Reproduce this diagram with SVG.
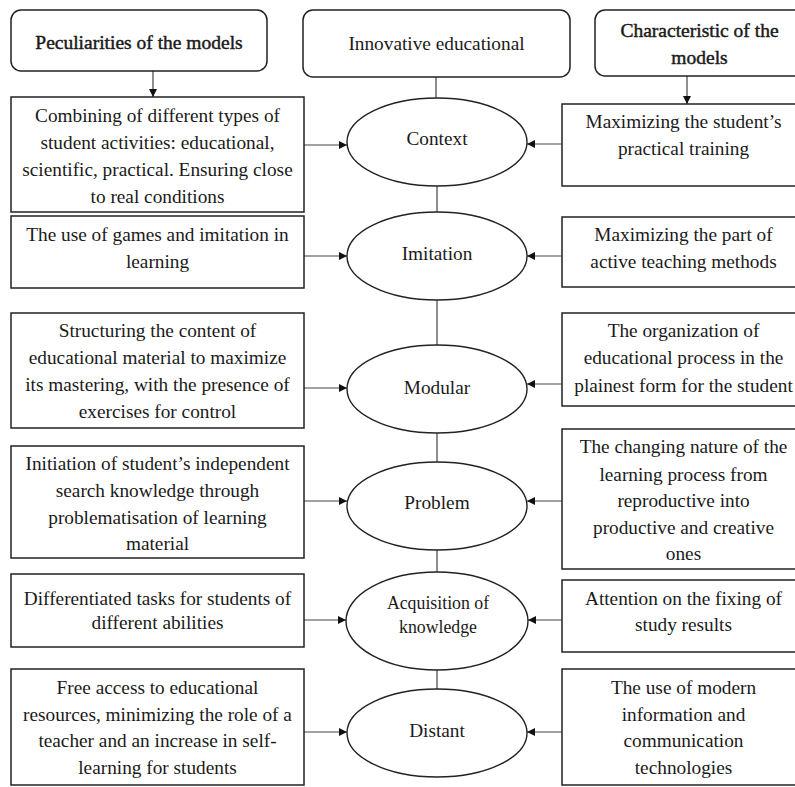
<svg xmlns="http://www.w3.org/2000/svg" width="795" height="787" viewBox="0 0 795 787">
  <style>
    text { font-family: "Liberation Serif", "Times New Roman", serif; font-size: 19.3px; fill: #1a1a1a; text-anchor: middle; }
    .head { font-size: 19.5px; stroke: #1a1a1a; stroke-width: 0.45; }
    .small { font-size: 17.8px; }
    .box { fill: #fff; stroke: #222; stroke-width: 1.5; }
    .hdr { fill: #fff; stroke: #222; stroke-width: 1.5; }
    .ell { fill: #fff; stroke: #222; stroke-width: 1.4; }
    .con { fill: none; stroke: #444; stroke-width: 1.2; }
  </style>
  <defs>
    <marker id="arr" viewBox="0 0 10 10" refX="10" refY="5" markerWidth="8" markerHeight="8" markerUnits="userSpaceOnUse" orient="auto">
      <path d="M0,0 L10,5 L0,10 z" fill="#111"/>
    </marker>
  </defs>
  <rect width="795" height="787" fill="#fff"/>

  <!-- connectors -->
  <g id="connectors">
    <!-- header arrows -->
    <line class="con" x1="153" y1="71" x2="153" y2="97" marker-end="url(#arr)"/>
    <line class="con" x1="687" y1="76" x2="687" y2="104" marker-end="url(#arr)"/>
    <!-- spine between model ellipses -->
    <line class="con" x1="436" y1="77" x2="436" y2="98"/>
    <line class="con" x1="437" y1="186" x2="437" y2="212"/>
    <line class="con" x1="437" y1="300" x2="437" y2="345"/>
    <line class="con" x1="437" y1="433" x2="437" y2="462"/>
    <line class="con" x1="437" y1="550" x2="437" y2="572"/>
    <line class="con" x1="437" y1="670" x2="437" y2="689"/>
    <!-- left boxes to ellipses -->
    <line class="con" x1="304" y1="145" x2="347" y2="145" marker-end="url(#arr)"/>
    <line class="con" x1="304" y1="256" x2="347" y2="256" marker-end="url(#arr)"/>
    <line class="con" x1="304" y1="388" x2="347" y2="388" marker-end="url(#arr)"/>
    <line class="con" x1="304" y1="501" x2="347" y2="501" marker-end="url(#arr)"/>
    <line class="con" x1="304" y1="620" x2="346" y2="620" marker-end="url(#arr)"/>
    <line class="con" x1="304" y1="732" x2="347" y2="732" marker-end="url(#arr)"/>
    <!-- right boxes to ellipses -->
    <line class="con" x1="562" y1="144" x2="527" y2="144" marker-end="url(#arr)"/>
    <line class="con" x1="562" y1="256" x2="527" y2="256" marker-end="url(#arr)"/>
    <line class="con" x1="562" y1="384" x2="527" y2="384" marker-end="url(#arr)"/>
    <line class="con" x1="562" y1="501" x2="527" y2="501" marker-end="url(#arr)"/>
    <line class="con" x1="562" y1="620" x2="528" y2="620" marker-end="url(#arr)"/>
    <line class="con" x1="562" y1="732" x2="527" y2="732" marker-end="url(#arr)"/>
  </g>

  <!-- headers -->
  <g id="hdr-peculiarities">
    <rect class="hdr" x="11" y="10" width="256" height="61" rx="10"/>
    <text class="head" x="139" y="49">Peculiarities of the models</text>
  </g>
  <g id="hdr-innovative">
    <rect class="hdr" x="303" y="10" width="267" height="67" rx="10"/>
    <text x="436.5" y="50">Innovative educational</text>
  </g>
  <g id="hdr-characteristic">
    <rect class="hdr" x="595" y="10" width="230" height="66" rx="10"/>
    <text class="head" x="699.5" y="37">Characteristic of the</text>
    <text class="head" x="699.5" y="64">models</text>
  </g>

  <!-- model ellipses -->
  <g id="m-context">
    <ellipse class="ell" cx="437" cy="142" rx="90" ry="44"/>
    <text x="437" y="145">Context</text>
  </g>
  <g id="m-imitation">
    <ellipse class="ell" cx="437" cy="256" rx="90" ry="44"/>
    <text x="437" y="260">Imitation</text>
  </g>
  <g id="m-modular">
    <ellipse class="ell" cx="437" cy="389" rx="90" ry="44"/>
    <text x="437" y="394">Modular</text>
  </g>
  <g id="m-problem">
    <ellipse class="ell" cx="437" cy="506" rx="90" ry="44"/>
    <text x="437" y="509">Problem</text>
  </g>
  <g id="m-acquisition">
    <ellipse class="ell" cx="437" cy="621" rx="91" ry="49"/>
    <text class="small" x="438" y="609">Acquisition of</text>
    <text class="small" x="438" y="633">knowledge</text>
  </g>
  <g id="m-distant">
    <ellipse class="ell" cx="437" cy="733" rx="90" ry="44"/>
    <text x="437" y="737">Distant</text>
  </g>

  <!-- peculiarities (left column) -->
  <g id="p-context">
    <rect class="box" x="11" y="97" width="293" height="115"/>
    <text x="157.5" y="122">Combining of different types of</text>
    <text x="157.5" y="149">student activities: educational,</text>
    <text x="157.5" y="176">scientific, practical. Ensuring close</text>
    <text x="157.5" y="203">to real conditions</text>
  </g>
  <g id="p-imitation">
    <rect class="box" x="11" y="216" width="293" height="72"/>
    <text x="157.5" y="241">The use of games and imitation in</text>
    <text x="157.5" y="268">learning</text>
  </g>
  <g id="p-modular">
    <rect class="box" x="11" y="313" width="293" height="115"/>
    <text x="157.5" y="337">Structuring the content of</text>
    <text x="157.5" y="364">educational material to maximize</text>
    <text x="157.5" y="391">its mastering, with the presence of</text>
    <text x="157.5" y="418">exercises for control</text>
  </g>
  <g id="p-problem">
    <rect class="box" x="11" y="446" width="293" height="112"/>
    <text x="157.5" y="470">Initiation of student’s independent</text>
    <text x="157.5" y="497">search knowledge through</text>
    <text x="157.5" y="524">problematisation of learning</text>
    <text x="157.5" y="550">material</text>
  </g>
  <g id="p-acquisition">
    <rect class="box" x="11" y="574" width="293" height="73"/>
    <text x="157.5" y="605">Differentiated tasks for students of</text>
    <text x="157.5" y="629">different abilities</text>
  </g>
  <g id="p-distant">
    <rect class="box" x="11" y="669" width="293" height="116"/>
    <text x="157.5" y="694">Free access to educational</text>
    <text x="157.5" y="721">resources, minimizing the role of a</text>
    <text x="157.5" y="747">teacher and an increase in self-</text>
    <text x="157.5" y="774">learning for students</text>
  </g>

  <!-- characteristics (right column) -->
  <g id="c-context">
    <rect class="box" x="562" y="104" width="250" height="82"/>
    <text x="683.5" y="128">Maximizing the student’s</text>
    <text x="683.5" y="155">practical training</text>
  </g>
  <g id="c-imitation">
    <rect class="box" x="562" y="217" width="250" height="70"/>
    <text x="683.5" y="241">Maximizing the part of</text>
    <text x="683.5" y="268">active teaching methods</text>
  </g>
  <g id="c-modular">
    <rect class="box" x="562" y="313" width="250" height="93"/>
    <text x="683.5" y="337">The organization of</text>
    <text x="683.5" y="364">educational process in the</text>
    <text x="683.5" y="392">plainest form for the student</text>
  </g>
  <g id="c-problem">
    <rect class="box" x="562" y="429" width="250" height="140"/>
    <text x="683.5" y="453">The changing nature of the</text>
    <text x="683.5" y="481">learning process from</text>
    <text x="683.5" y="507">reproductive into</text>
    <text x="683.5" y="534">productive and creative</text>
    <text x="683.5" y="560">ones</text>
  </g>
  <g id="c-acquisition">
    <rect class="box" x="562" y="580" width="250" height="72"/>
    <text x="683.5" y="605">Attention on the fixing of</text>
    <text x="683.5" y="631">study results</text>
  </g>
  <g id="c-distant">
    <rect class="box" x="562" y="669" width="250" height="116"/>
    <text x="683.5" y="694">The use of modern</text>
    <text x="683.5" y="721">information and</text>
    <text x="683.5" y="747">communication</text>
    <text x="683.5" y="774">technologies</text>
  </g>
</svg>
